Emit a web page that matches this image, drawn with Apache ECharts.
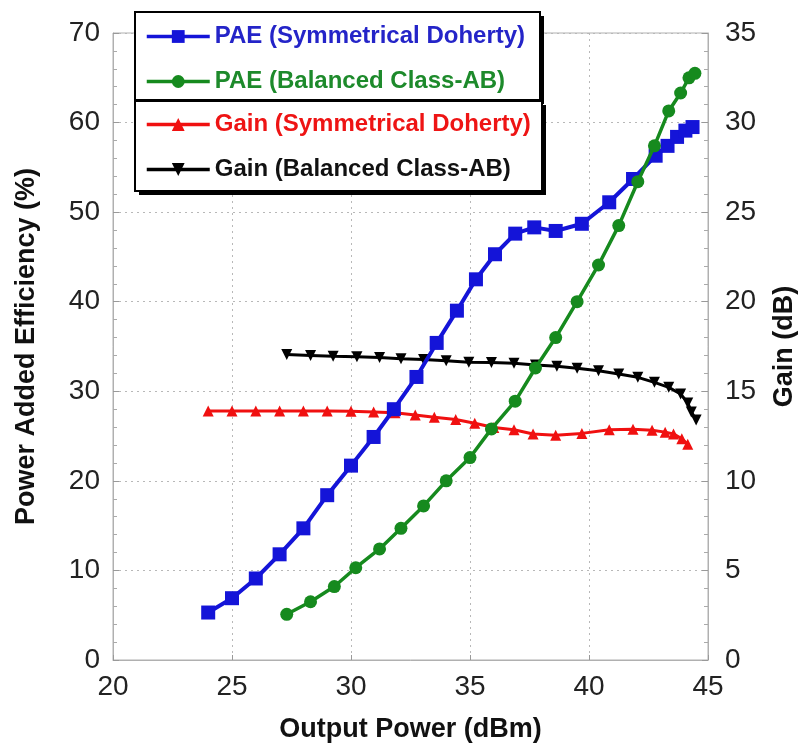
<!DOCTYPE html>
<html>
<head>
<meta charset="utf-8">
<script src="https://cdn.jsdelivr.net/npm/echarts@6/dist/echarts.min.js"></script>
<style>
html,body{margin:0;padding:0;background:#fff;}
#chart{width:811px;height:753px;}
</style>
</head>
<body>
<div id="chart"></div>
<script>
// Output power (dBm) and values
const paeDohX = [24.0, 25.0, 26.0, 27.0, 28.0, 29.0, 30.0, 30.95, 31.8, 32.75, 33.6, 34.45, 35.25, 36.05, 36.9, 37.7, 38.6, 39.7, 40.85, 41.85, 42.8, 43.3, 43.7, 44.05, 44.35];
const paeDohY = [5.3, 6.9, 9.1, 11.8, 14.7, 18.4, 21.7, 24.9, 28.0, 31.6, 35.4, 39.0, 42.5, 45.3, 47.6, 48.3, 47.9, 48.7, 51.1, 53.7, 56.3, 57.4, 58.4, 59.1, 59.5];

const paeAbX = [27.3, 28.3, 29.3, 30.2, 31.2, 32.1, 33.05, 34.0, 35.0, 35.9, 36.9, 37.75, 38.6, 39.5, 40.4, 41.25, 42.05, 42.75, 43.35, 43.85, 44.2, 44.45];
const paeAbY = [5.1, 6.5, 8.2, 10.3, 12.4, 14.7, 17.2, 20.0, 22.6, 25.8, 28.9, 32.6, 36.0, 40.0, 44.1, 48.5, 53.4, 57.4, 61.3, 63.3, 65.0, 65.5];

const gainDohX = [24.0, 25.0, 26.0, 27.0, 28.0, 29.0, 30.0, 30.95, 31.85, 32.7, 33.5, 34.4, 35.2, 36.0, 36.85, 37.65, 38.6, 39.7, 40.85, 41.85, 42.65, 43.2, 43.55, 43.9, 44.15];
const gainDohY = [13.9, 13.9, 13.9, 13.9, 13.9, 13.9, 13.88, 13.85, 13.8, 13.68, 13.55, 13.42, 13.22, 12.98, 12.85, 12.62, 12.55, 12.65, 12.85, 12.88, 12.82, 12.72, 12.62, 12.35, 12.05];

const gainAbX = [27.3, 28.3, 29.25, 30.25, 31.2, 32.1, 33.05, 34.0, 34.95, 35.9, 36.85, 37.75, 38.65, 39.5, 40.4, 41.25, 42.05, 42.75, 43.35, 43.85, 44.15, 44.3, 44.5];
const gainAbY = [17.05, 17.0, 16.95, 16.93, 16.88, 16.82, 16.78, 16.7, 16.62, 16.6, 16.57, 16.47, 16.4, 16.28, 16.15, 15.97, 15.78, 15.5, 15.22, 14.85, 14.35, 13.85, 13.4];

const seriesNames = ['PAE (Symmetrical Doherty)', 'PAE (Balanced Class-AB)', 'Gain (Symmetrical Doherty)', 'Gain (Balanced Class-AB)'];
const xTitle = 'Output Power (dBm)';
const yLeftTitle = 'Power Added Efficiency (%)';
const yRightTitle = 'Gain (dB)';

const pairs = (xs, ys) => xs.map((x, i) => [x, ys[i]]);

const C_BLUE = '#1414d8', C_GREEN = '#168a1e', C_RED = '#f01010', C_BLACK = '#000000';
const FONT = 'Liberation Sans, Arial, sans-serif';

const legendCommon = {
  orient: 'vertical', left: 136, itemWidth: 63, itemHeight: 16, itemGap: 20,
  padding: [0, 0, 0, 9], z: 20,
  lineStyle: {width: 3.5},
  textStyle: {fontSize: 24, fontWeight: 'bold', fontFamily: FONT, lineHeight: 25},
  selectedMode: false
};

function legendBox(x, y, w, h, z) {
  return [
    {type: 'rect', z: z, shape: {x: x + 4, y: y + 4, width: w, height: h}, style: {fill: '#000'}},
    {type: 'rect', z: z + 1, shape: {x: x, y: y, width: w, height: h}, style: {fill: '#fff', stroke: '#000', lineWidth: 2}}
  ];
}

const chart = echarts.init(document.getElementById('chart'), null, {renderer: 'canvas'});
chart.setOption({
  backgroundColor: '#fff',
  animation: false,
  grid: {left: 113, right: 103, top: 33, bottom: 93, show: true, borderColor: '#b0b0b0', borderWidth: 1},
  graphic: [].concat(legendBox(135, 12, 405, 88, 10), legendBox(135, 101, 407, 90, 12)),
  legend: [
    Object.assign({}, legendCommon, {top: 24, data: [
      {name: seriesNames[0], textStyle: {color: '#2424c8'}},
      {name: seriesNames[1], textStyle: {color: '#1d8a2b'}}
    ]}),
    Object.assign({}, legendCommon, {top: 112, data: [
      {name: seriesNames[2], textStyle: {color: '#ee1414'}},
      {name: seriesNames[3], textStyle: {color: '#111'}}
    ]})
  ],
  xAxis: {
    type: 'value', min: 20, max: 45, interval: 5,
    name: xTitle, nameLocation: 'middle', nameGap: 56,
    nameTextStyle: {fontSize: 27, fontWeight: 'bold', color: '#111', fontFamily: FONT},
    axisLine: {lineStyle: {color: '#b0b0b0'}},
    axisTick: {inside: true, length: 5, lineStyle: {color: '#999'}},
    axisLabel: {fontSize: 28, color: '#222', margin: 13, fontFamily: FONT},
    splitLine: {show: true, lineStyle: {type: [2, 4], color: '#b8b8b8', width: 1}}
  },
  yAxis: [{
    type: 'value', min: 0, max: 70, interval: 10, position: 'left',
    name: yLeftTitle, nameLocation: 'middle', nameGap: 73, nameRotate: 90,
    nameTextStyle: {fontSize: 27, fontWeight: 'bold', color: '#111', fontFamily: FONT},
    axisLine: {show: true, lineStyle: {color: '#b0b0b0'}},
    axisTick: {show: true, inside: true, length: 6, lineStyle: {color: '#999'}},
    minorTick: {show: true, splitNumber: 5, length: 4, lineStyle: {color: '#aaa'}},
    axisLabel: {fontSize: 28, color: '#222', margin: 13, fontFamily: FONT},
    splitLine: {show: true, lineStyle: {type: [2, 4], color: '#b8b8b8', width: 1}}
  }, {
    type: 'value', min: 0, max: 35, interval: 5, position: 'right',
    name: yRightTitle, nameLocation: 'middle', nameGap: 63, nameRotate: 90,
    nameTextStyle: {fontSize: 27, fontWeight: 'bold', color: '#111', fontFamily: FONT},
    axisLine: {show: true, lineStyle: {color: '#b0b0b0'}},
    axisTick: {show: true, inside: true, length: 6, lineStyle: {color: '#999'}},
    minorTick: {show: true, splitNumber: 5, length: 4, lineStyle: {color: '#aaa'}},
    axisLabel: {fontSize: 28, color: '#222', margin: 17, fontFamily: FONT},
    splitLine: {show: false}
  }],
  series: [
    {name: seriesNames[2], type: 'line', yAxisIndex: 1, z: 2, data: pairs(gainDohX, gainDohY),
     symbol: 'triangle', symbolSize: 11, lineStyle: {color: C_RED, width: 3}, itemStyle: {color: C_RED}},
    {name: seriesNames[3], type: 'line', yAxisIndex: 1, z: 3, data: pairs(gainAbX, gainAbY),
     symbol: 'triangle', symbolRotate: 180, symbolSize: 11, lineStyle: {color: C_BLACK, width: 3}, itemStyle: {color: C_BLACK}},
    {name: seriesNames[0], type: 'line', yAxisIndex: 0, z: 4, data: pairs(paeDohX, paeDohY),
     symbol: 'rect', symbolSize: 14, lineStyle: {color: C_BLUE, width: 4}, itemStyle: {color: C_BLUE}},
    {name: seriesNames[1], type: 'line', yAxisIndex: 0, z: 5, data: pairs(paeAbX, paeAbY),
     symbol: 'circle', symbolSize: 13, lineStyle: {color: C_GREEN, width: 3.5}, itemStyle: {color: C_GREEN}}
  ]
});
</script>
</body>
</html>
